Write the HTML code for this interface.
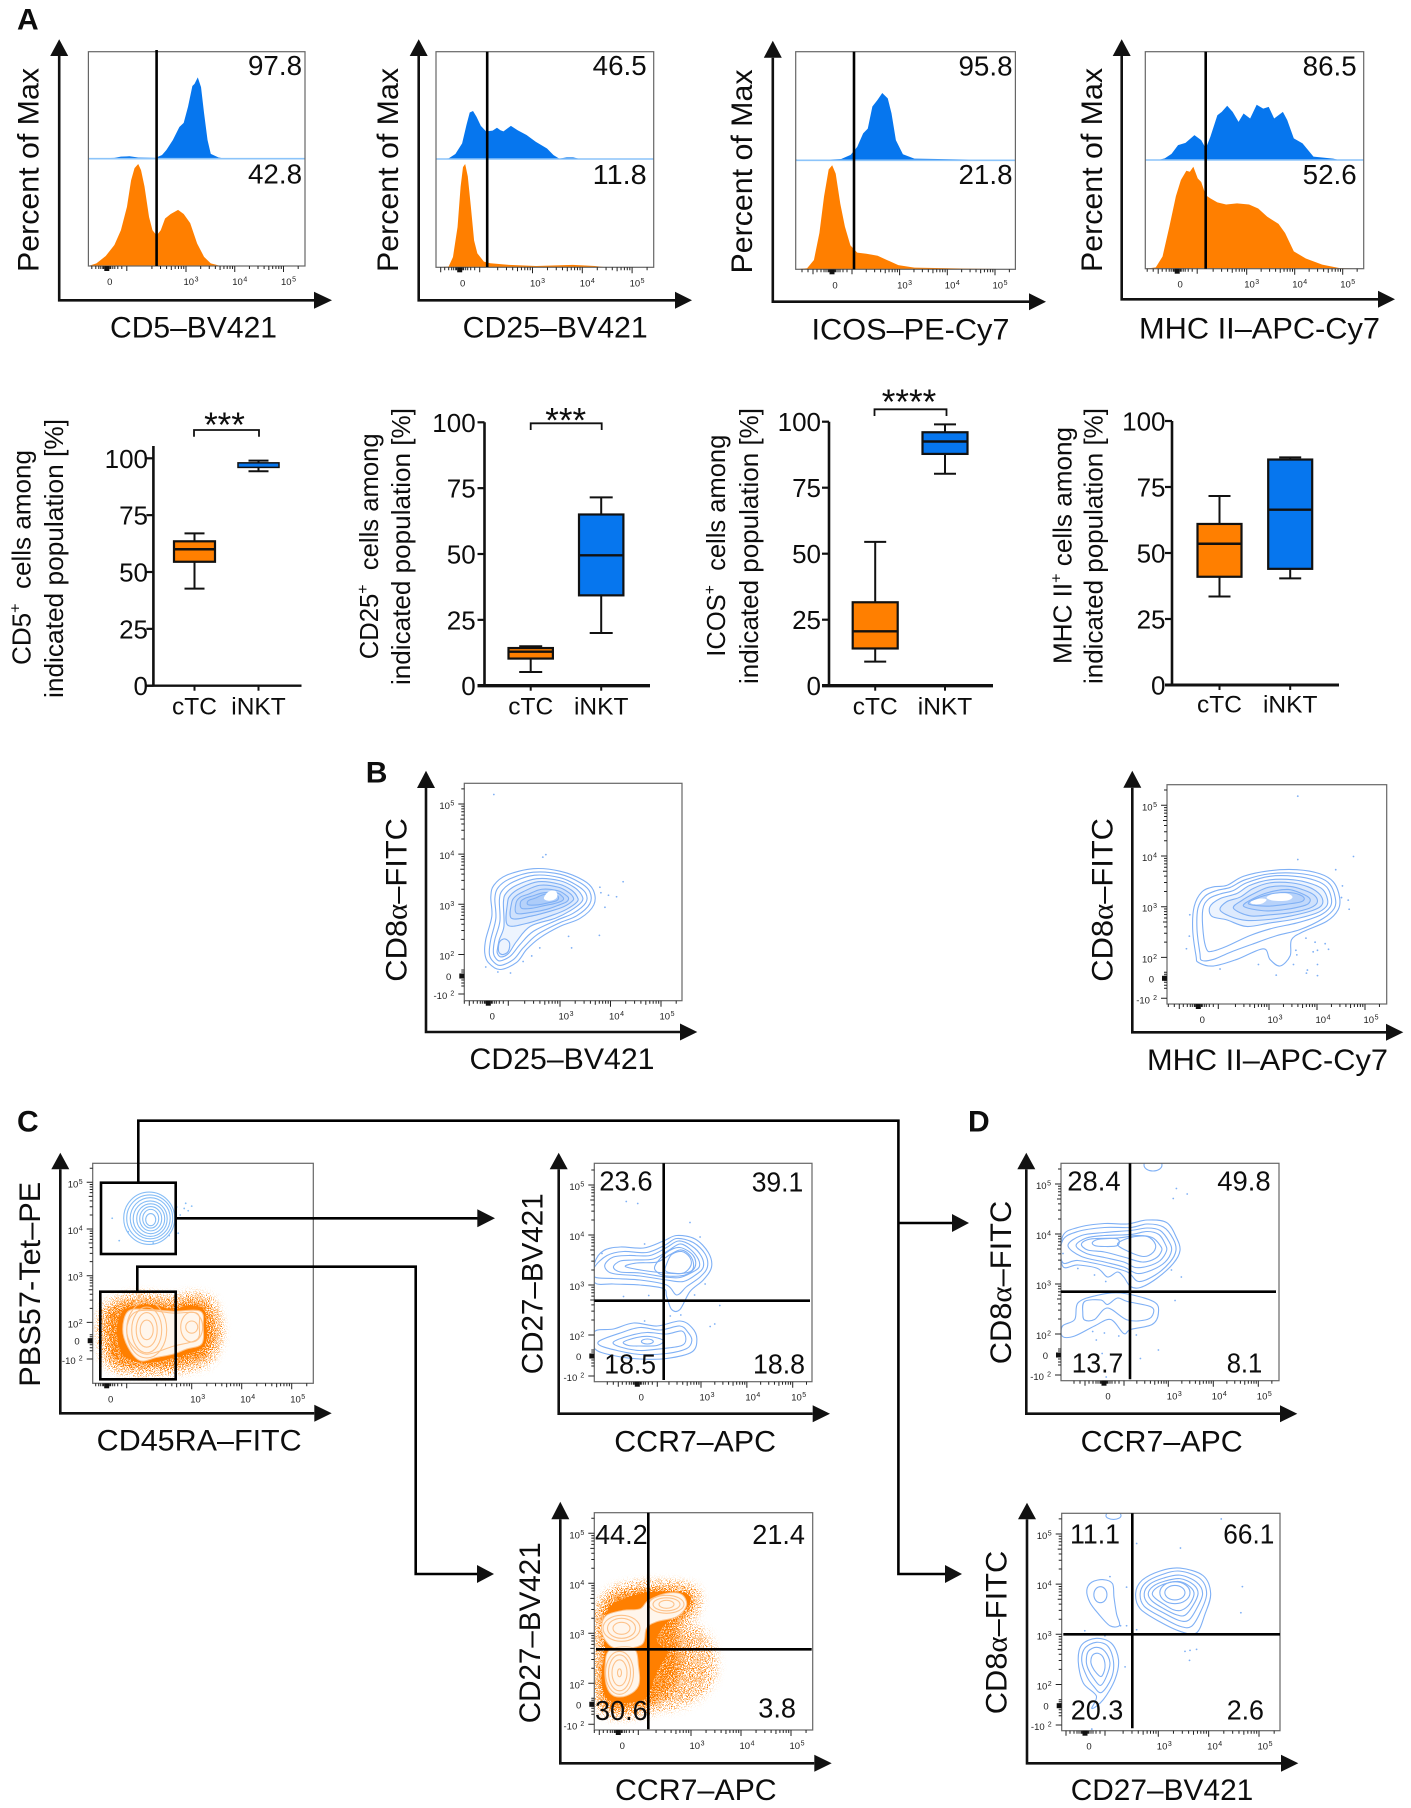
<!DOCTYPE html>
<html lang="en">
<head>
<meta charset="utf-8">
<title>Flow cytometry figure</title>
<style>
html,body{margin:0;padding:0;background:#fff;}
svg{display:block;}
text{font-family:"Liberation Sans",sans-serif;fill:#0d0d0d;}
.title{font-size:30px;}
.boxtitle{font-size:26px;}
.pct{font-size:27.5px;}
.letter{font-size:30px;font-weight:bold;}
.stars{font-size:35px;text-anchor:middle;}
.axis{stroke:#111;stroke-width:2.6;fill:none;}
.gate{stroke:#000;stroke-width:2.6;fill:none;}
.tip{fill:#111;stroke:none;}
.br{stroke:#111;stroke-width:1.8;fill:none;}
.a{font-family:"Liberation Serif",serif;}
</style>
</head>
<body>
<svg id="figure" width="1411" height="1808" viewBox="0 0 1411 1808" xmlns="http://www.w3.org/2000/svg">
<defs>
<filter id="stipple" x="-25%" y="-25%" width="150%" height="150%" color-interpolation-filters="sRGB">
<feGaussianBlur in="SourceAlpha" stdDeviation="6" result="b"/>
<feTurbulence type="fractalNoise" baseFrequency="1.05" numOctaves="2" seed="4" result="n0"/>
<feColorMatrix in="n0" type="matrix" values="0 0 0 0 0  0 0 0 0 0  0 0 0 0 0  0 0 0 1 0" result="n1"/>
<feComponentTransfer in="n1" result="n"><feFuncA type="linear" slope="4" intercept="-1.5"/></feComponentTransfer>
<feComposite in="b" in2="n" operator="arithmetic" k1="0" k2="1" k3="1" k4="-1" result="c"/>
<feComponentTransfer in="c" result="t"><feFuncA type="linear" slope="6"/></feComponentTransfer>
<feFlood flood-color="#ff7f00" result="f"/>
<feComposite in="f" in2="t" operator="in"/>
</filter>
</defs>
<rect width="1411" height="1808" fill="#fff"/>

<text class="letter" x="17" y="29.3">A</text>
<text class="letter" x="365.7" y="782.7">B</text>
<text class="letter" x="17" y="1131.7">C</text>
<text class="letter" x="968" y="1131.7">D</text>

<!-- drawn marks land in this layer -->
<g id="marks"></g>

<!-- Panel A histograms: axes, gates, titles, values -->
<g>
<path class="axis" d="M59.2,56V300.3H314"/>
<path class="tip" d="M59.2,39.3L68.2,56H50.2Z"/>
<path class="tip" d="M332,300.3L314,291.8V308.8Z"/>
<path class="gate" d="M156.6,50V266"/>
<text class="pct" x="248" y="75" textLength="54" lengthAdjust="spacingAndGlyphs">97.8</text>
<text class="pct" x="248" y="183.3" textLength="54" lengthAdjust="spacingAndGlyphs">42.8</text>
<text class="title" x="110" y="337.3" textLength="167" lengthAdjust="spacingAndGlyphs">CD5–BV421</text>
<text class="title" transform="translate(38.5,272) rotate(-90)" textLength="204" lengthAdjust="spacingAndGlyphs">Percent of Max</text>
</g>
<g>
<path class="axis" d="M418.7,56V300.3H675"/>
<path class="tip" d="M418.7,39.3L427.7,56H409.7Z"/>
<path class="tip" d="M692,300.3L675,291.8V308.8Z"/>
<path class="gate" d="M487.2,51.7V267"/>
<text class="pct" x="592.7" y="75" textLength="54" lengthAdjust="spacingAndGlyphs">46.5</text>
<text class="pct" x="592.7" y="184" textLength="54" lengthAdjust="spacingAndGlyphs">11.8</text>
<text class="title" x="462.7" y="337.3" textLength="185" lengthAdjust="spacingAndGlyphs">CD25–BV421</text>
<text class="title" transform="translate(398,272) rotate(-90)" textLength="204" lengthAdjust="spacingAndGlyphs">Percent of Max</text>
</g>
<g>
<path class="axis" d="M772.8,57.7V301.7H1029"/>
<path class="tip" d="M772.8,40.7L781.8,57.7H763.8Z"/>
<path class="tip" d="M1046,301.7L1029,293.2V310.2Z"/>
<path class="gate" d="M854,51.7V269.3"/>
<text class="pct" x="958.5" y="75.3" textLength="54" lengthAdjust="spacingAndGlyphs">95.8</text>
<text class="pct" x="958.5" y="184" textLength="54" lengthAdjust="spacingAndGlyphs">21.8</text>
<text class="title" x="811.5" y="339.3" textLength="198" lengthAdjust="spacingAndGlyphs">ICOS–PE-Cy7</text>
<text class="title" transform="translate(752,273.5) rotate(-90)" textLength="204" lengthAdjust="spacingAndGlyphs">Percent of Max</text>
</g>
<g>
<path class="axis" d="M1121.7,56V299.3H1378"/>
<path class="tip" d="M1121.7,39.3L1130.7,56H1112.7Z"/>
<path class="tip" d="M1395,299.3L1378,290.8V307.8Z"/>
<path class="gate" d="M1205.7,51.7V268.7"/>
<text class="pct" x="1302.7" y="75.3" textLength="54" lengthAdjust="spacingAndGlyphs">86.5</text>
<text class="pct" x="1302.7" y="184" textLength="54" lengthAdjust="spacingAndGlyphs">52.6</text>
<text class="title" x="1139" y="338.3" textLength="241" lengthAdjust="spacingAndGlyphs">MHC II–APC-Cy7</text>
<text class="title" transform="translate(1102,272) rotate(-90)" textLength="204" lengthAdjust="spacingAndGlyphs">Percent of Max</text>
</g>

<!-- Panel A box plot annotations -->
<g>
<text class="boxtitle" transform="translate(30.5,665) rotate(-90)" textLength="215" lengthAdjust="spacingAndGlyphs">CD5<tspan font-size="16" dy="-10">+</tspan><tspan dy="10">&#160; cells among</tspan></text>
<text class="boxtitle" transform="translate(63,698) rotate(-90)" textLength="279" lengthAdjust="spacingAndGlyphs">indicated population [%]</text>
<path class="br" d="M194,436.7V430H259V436.7"/>
<text class="stars" x="224.5" y="437">***</text>

<text class="boxtitle" transform="translate(378,659.3) rotate(-90)" textLength="226" lengthAdjust="spacingAndGlyphs">CD25<tspan font-size="16" dy="-10">+</tspan><tspan dy="10">&#160; cells among</tspan></text>
<text class="boxtitle" transform="translate(410,685) rotate(-90)" textLength="277" lengthAdjust="spacingAndGlyphs">indicated population [%]</text>
<path class="br" d="M530.7,430V423.3H601.7V430"/>
<text class="stars" x="565.7" y="432.5">***</text>

<text class="boxtitle" transform="translate(725,656.7) rotate(-90)" textLength="222" lengthAdjust="spacingAndGlyphs">ICOS<tspan font-size="16" dy="-10">+</tspan><tspan dy="10">&#160; cells among</tspan></text>
<text class="boxtitle" transform="translate(758,684) rotate(-90)" textLength="276" lengthAdjust="spacingAndGlyphs">indicated population [%]</text>
<path class="br" d="M874.5,416V409.3H946.5V416"/>
<text class="stars" x="909" y="414">****</text>

<text class="boxtitle" transform="translate(1071.7,664) rotate(-90)" textLength="237" lengthAdjust="spacingAndGlyphs">MHC II<tspan font-size="16" dy="-10">+</tspan><tspan dy="10">&#160;cells among</tspan></text>
<text class="boxtitle" transform="translate(1102.7,684) rotate(-90)" textLength="276" lengthAdjust="spacingAndGlyphs">indicated population [%]</text>
</g>

<!-- Panel B -->
<g>
<path class="axis" d="M426,788V1032H680"/>
<path class="tip" d="M426,770.7L435,788H417Z"/>
<path class="tip" d="M697.3,1032L680,1023.5V1040.5Z"/>
<text class="title" x="469.5" y="1069" textLength="185" lengthAdjust="spacingAndGlyphs">CD25–BV421</text>
<text class="title" transform="translate(406.7,981.7) rotate(-90)" textLength="163.7" lengthAdjust="spacingAndGlyphs">CD8<tspan class="a">α</tspan>–FITC</text>
<path class="axis" d="M1132.3,787.7V1032.3H1386"/>
<path class="tip" d="M1132.3,770.7L1141.3,787.7H1123.3Z"/>
<path class="tip" d="M1403.3,1032.3L1386,1023.8V1040.8Z"/>
<text class="title" x="1147" y="1070" textLength="241" lengthAdjust="spacingAndGlyphs">MHC II–APC-Cy7</text>
<text class="title" transform="translate(1112.7,981.7) rotate(-90)" textLength="163.7" lengthAdjust="spacingAndGlyphs">CD8<tspan class="a">α</tspan>–FITC</text>
</g>

<!-- Panel C / D -->
<g>
<path class="axis" d="M60.3,1169.3V1413.3H314.3"/>
<path class="tip" d="M60.3,1152.7L69.3,1169.3H51.3Z"/>
<path class="tip" d="M331.7,1413.3L314.3,1404.8V1421.8Z"/>
<text class="title" x="96.7" y="1450.7" textLength="205" lengthAdjust="spacingAndGlyphs">CD45RA–FITC</text>
<text class="title" transform="translate(40,1386.7) rotate(-90)" textLength="205" lengthAdjust="spacingAndGlyphs">PBS57-Tet–PE</text>
<rect class="gate" x="101" y="1182.7" width="74.7" height="71.3"/>
<rect class="gate" x="100.3" y="1291.7" width="75.4" height="87.6"/>
<path class="gate" d="M138.3,1182.7V1120.7H898.4V1574H945M898.4,1223H952"/>
<path class="tip" d="M969,1223L952,1214V1232Z"/>
<path class="tip" d="M962,1574L945,1565V1583Z"/>
<path class="gate" d="M175.7,1218.3H478"/>
<path class="tip" d="M495,1218.3L477.3,1209.3V1227.3Z"/>
<path class="gate" d="M137.3,1291.7V1266.7H415.7V1574H478"/>
<path class="tip" d="M494,1574L477,1565V1583Z"/>

<path class="axis" d="M558.7,1169.3V1413.7H812.7"/>
<path class="tip" d="M558.7,1152.7L567.7,1169.3H549.7Z"/>
<path class="tip" d="M830,1413.7L812.7,1405.2V1422.2Z"/>
<path class="gate" d="M663.7,1163.3V1380M594.3,1300.7H810"/>
<text class="pct" x="599.3" y="1190.7" textLength="53.4" lengthAdjust="spacingAndGlyphs">23.6</text>
<text class="pct" x="751.7" y="1191.7" textLength="51.6" lengthAdjust="spacingAndGlyphs">39.1</text>
<text class="pct" x="604.3" y="1373.3" textLength="51.7" lengthAdjust="spacingAndGlyphs">18.5</text>
<text class="pct" x="753" y="1373.3" textLength="52" lengthAdjust="spacingAndGlyphs">18.8</text>
<text class="title" x="614.3" y="1451.7" textLength="161.7" lengthAdjust="spacingAndGlyphs">CCR7–APC</text>
<text class="title" transform="translate(542.7,1374.3) rotate(-90)" textLength="181" lengthAdjust="spacingAndGlyphs">CD27–BV421</text>

<path class="axis" d="M560.3,1519.3V1763.3H814.3"/>
<path class="tip" d="M560.3,1501.7L569.3,1519.3H551.3Z"/>
<path class="tip" d="M831.7,1763.3L814.3,1754.8V1771.8Z"/>
<path class="gate" d="M648.3,1512.7V1729.3M596,1649.3H811.7"/>
<text class="pct" x="595" y="1544" textLength="52.7" lengthAdjust="spacingAndGlyphs">44.2</text>
<text class="pct" x="752.3" y="1544" textLength="52.7" lengthAdjust="spacingAndGlyphs">21.4</text>
<text class="pct" x="595" y="1720" textLength="52.7" lengthAdjust="spacingAndGlyphs">30.6</text>
<text class="pct" x="758.3" y="1717.3" textLength="37.7" lengthAdjust="spacingAndGlyphs">3.8</text>
<text class="title" x="615" y="1800" textLength="161.7" lengthAdjust="spacingAndGlyphs">CCR7–APC</text>
<text class="title" transform="translate(540,1723.3) rotate(-90)" textLength="181" lengthAdjust="spacingAndGlyphs">CD27–BV421</text>

<path class="axis" d="M1026.3,1169.3V1413.7H1280"/>
<path class="tip" d="M1026.3,1152.7L1035.3,1169.3H1017.3Z"/>
<path class="tip" d="M1297.3,1413.7L1280,1405.2V1422.2Z"/>
<path class="gate" d="M1130,1163.3V1379.3M1061,1291.7H1276"/>
<text class="pct" x="1067.3" y="1190.7" textLength="53.4" lengthAdjust="spacingAndGlyphs">28.4</text>
<text class="pct" x="1217.3" y="1190.7" textLength="53.4" lengthAdjust="spacingAndGlyphs">49.8</text>
<text class="pct" x="1071.7" y="1372.7" textLength="51.6" lengthAdjust="spacingAndGlyphs">13.7</text>
<text class="pct" x="1226.7" y="1372.7" textLength="35.6" lengthAdjust="spacingAndGlyphs">8.1</text>
<text class="title" x="1080.7" y="1451.7" textLength="162" lengthAdjust="spacingAndGlyphs">CCR7–APC</text>
<text class="title" transform="translate(1011,1364.3) rotate(-90)" textLength="163.6" lengthAdjust="spacingAndGlyphs">CD8<tspan class="a">α</tspan>–FITC</text>

<path class="axis" d="M1027,1519.3V1763.3H1281"/>
<path class="tip" d="M1027,1502.7L1036,1519.3H1018Z"/>
<path class="tip" d="M1298.3,1763.3L1281,1754.8V1771.8Z"/>
<path class="gate" d="M1132.3,1513.3V1728.3M1063.3,1634.3H1280"/>
<text class="pct" x="1070" y="1543.3" textLength="50" lengthAdjust="spacingAndGlyphs">11.1</text>
<text class="pct" x="1223.3" y="1543.3" textLength="51" lengthAdjust="spacingAndGlyphs">66.1</text>
<text class="pct" x="1070.7" y="1719.3" textLength="52.6" lengthAdjust="spacingAndGlyphs">20.3</text>
<text class="pct" x="1226.7" y="1719.3" textLength="37.3" lengthAdjust="spacingAndGlyphs">2.6</text>
<text class="title" x="1070.7" y="1800" textLength="182.6" lengthAdjust="spacingAndGlyphs">CD27–BV421</text>
<text class="title" transform="translate(1006.7,1714.3) rotate(-90)" textLength="163.6" lengthAdjust="spacingAndGlyphs">CD8<tspan class="a">α</tspan>–FITC</text>
</g>
</svg>

<script>
/* ---------- histogram data: display channel (0-100 across the plot) and % of max ---------- */
const cd5BlueChannel=[0,12,15,19,23,31,34,36,39,42,44,46,48,49,50.5,52,53.4,55,56.5,60,63,100];
const cd5BlueCount=[0,1,2.5,3,1.5,1,4.5,10.7,23,39,44,64,89.5,92,100,88,56,23,6,1.6,0,0];
const cd5OrangeChannel=[0,3.7,8,12,15,17.8,19.7,21.3,23,24.3,25.9,28,29.6,31.5,33.4,35.4,38,41.4,44,47,50.2,53.4,56.5,60.7,100];
const cd5OrangeCount=[0,2.6,9.8,20.6,35,58,84,96,100,94,78,48,35,30,35,46.6,51,55,51,42,22,9,2.6,0.3,0];
const cd25BlueChannel=[0,5.8,8.9,12,14,15.5,17,18.6,20.6,23,26,28,29.6,31,34.4,37.5,41.6,45.8,51,54,56.6,60,63,66.4,100];
const cd25BlueCount=[0,1.4,10.4,32.6,71,97,100,88,69,57.6,59,65,60,57.6,69,60,50,36,22,8,0.7,3.5,3.5,0,0];
const cd25OrangeChannel=[0,5.8,7.8,9.9,11.3,12.4,13.4,14.6,16,17.5,19,22,25,33.6,46,62.8,73,77,100];
const cd25OrangeCount=[0,0.6,10,39,78,97,100,88,59,26,13.5,5.5,3.9,2.3,1.3,2.3,1.3,0.3,0];
const icosBlueChannel=[0,3,14.5,20.7,25,28,30.7,32.8,34.9,37.3,39.4,41.9,43.6,45.6,48.8,54,100];
const icosBlueCount=[1.5,0,1,2,8,20,40,47,80,90,100,92,70,30,9,2.5,0];
const icosOrangeChannel=[0,5.2,8.3,10.8,12.9,15,16.6,18.2,20.3,22.4,24.9,28,32.2,37.3,41.5,46.7,54,79,100];
const icosOrangeCount=[0,1,9,35,70,96,100,92,63,41,23,16,15,13,9,4,1.6,0.6,0];
const mhcBlueChannel=[0,5.8,8.9,12,15,18.4,22.5,25.6,27.7,29.8,33,35,37.5,40,42.7,45,48,51,54,56.5,59,63,65,68,72,77,86,89,100];
const mhcBlueCount=[0,0,3,11,27,31,45,36,21,42,81,87,98,87,69,84,75,100,93,96,75,87,72,39,30,6,2.4,0,0];
const mhcOrangeChannel=[0,4.8,7.9,11,14,16.3,18.8,20.4,22,24,25.6,27.7,29.8,33,37,42,47.5,51.7,55.8,61,64,68,73.5,81,89,100];
const mhcOrangeCount=[0,1.3,12,41,71,87,96,95,100,88.5,85,72,69,65,63,64,63,59,51,44,35,17,10,4,0.6,0];

/* ---------- box plot data: [low whisker, Q1, median, Q3, high whisker] in % ---------- */
const boxCategories=['cTC','iNKT'];
const boxTickValues=[0,25,50,75,100];
const cd5BoxCtc=[42.7,54.5,60,63.5,67];
const cd5BoxInkt=[94.3,96,97,98,99];
const cd25BoxCtc=[5.2,10.3,12.9,14.3,15];
const cd25BoxInkt=[20,34.3,49.5,65,71.5];
const icosBoxCtc=[9.1,14.1,20.6,31.6,54.5];
const icosBoxInkt=[80.3,87.8,92.5,96,99];
const mhcBoxCtc=[33.5,41,53.5,61,71.6];
const mhcBoxInkt=[40.4,44,66.4,85.4,86.2];

/* ---------- flow tick labels ---------- */
const xTickExponents=['3','4','5'];
const yTickExponents=['2','3','4','5'];
const minorMultiples=[2,3,4,5,6,7,8,9];

/* ---------- contour data: rings of [log10 x, log10 y] in display decades ---------- */
const cd25Rings=[
[[1.51,2.03],[1.53,2.3],[1.65,2.76],[1.63,3.15],[1.69,3.38],[1.94,3.58],[2.47,3.71],[3,3.66],[3.46,3.48],[3.66,3.28],[3.67,2.99],[3.4,2.72],[3,2.56],[2.6,2.33],[2.34,2.1],[2.14,1.84],[1.81,1.7],[1.58,1.84]],
[[1.6,2.03],[1.63,2.3],[1.73,2.72],[1.71,3.12],[1.78,3.34],[2.01,3.51],[2.47,3.64],[3,3.6],[3.4,3.43],[3.59,3.25],[3.59,3.01],[3.33,2.77],[2.97,2.62],[2.54,2.39],[2.27,2.13],[2.08,1.9],[1.81,1.78],[1.65,1.89]],
[[1.68,2.07],[1.71,2.3],[1.81,2.66],[1.8,3.09],[1.86,3.28],[2.08,3.45],[2.5,3.58],[3,3.53],[3.33,3.38],[3.51,3.22],[3.51,3.03],[3.26,2.82],[2.93,2.68],[2.47,2.46],[2.21,2.2],[2.02,1.97],[1.81,1.87],[1.71,1.95]],
[[1.76,2.1],[1.8,2.3],[1.89,2.56],[1.88,3.05],[1.94,3.23],[2.14,3.38],[2.54,3.51],[3,3.47],[3.28,3.34],[3.43,3.18],[3.43,3.05],[3.2,2.87],[2.9,2.72],[2.41,2.56],[2.14,2.26],[1.98,2.02],[1.83,1.95],[1.76,2.02]],
[[1.96,2.59],[1.96,3.02],[2.02,3.18],[2.21,3.32],[2.57,3.45],[2.99,3.4],[3.23,3.28],[3.34,3.15],[3.34,3.05],[3.13,2.9],[2.87,2.79],[2.34,2.62]],
[[2.04,2.72],[2.04,3.02],[2.11,3.15],[2.27,3.25],[2.6,3.38],[2.97,3.34],[3.18,3.23],[3.26,3.14],[3.25,3.07],[3.07,2.95],[2.8,2.86],[2.41,2.76]],
[[2.14,2.82],[2.13,3.03],[2.21,3.14],[2.37,3.2],[2.64,3.3],[2.96,3.27],[3.12,3.18],[3.17,3.12],[3.13,3.05],[2.99,2.99],[2.74,2.9],[2.44,2.84]],
[[2.24,2.92],[2.22,3.05],[2.31,3.12],[2.47,3.17],[2.67,3.23],[2.93,3.23],[3.04,3.16],[3.07,3.1],[3,3.05],[2.87,3.01],[2.67,2.97],[2.44,2.92]],
[[2.37,2.99],[2.37,3.07],[2.5,3.12],[2.7,3.2],[2.9,3.2],[2.97,3.14],[2.93,3.07],[2.77,3.03],[2.57,2.99]]];
const cd25SideRings=[[[1.78,2.13],[1.81,2.26],[1.91,2.31],[2,2.23],[1.98,2.07],[1.88,2],[1.8,2.03]]];
const cd25Peaks=[[[2.68,3.12],[2.77,3.25],[2.9,3.27],[2.95,3.18],[2.9,3.1],[2.77,3.07]]];
const cd25Dots=[[1.69,5.19],[2.66,3.94],[2.72,3.99],[3.79,3.34],[3.81,3.23],[3.96,3.18],[4.12,3.15],[4.25,3.45],[3.89,2.94],[3.78,2.38],[3.17,2.36],[3.23,2.13],[2.6,2.13],[2.44,1.97],[2.27,1.86],[2.02,1.63],[1.77,1.65],[1.53,1.75]];

const mhcRings=[
[[1.48,2.03],[1.41,2.55],[1.44,3],[1.6,3.29],[1.84,3.39],[2.12,3.42],[2.47,3.6],[3.02,3.71],[3.58,3.73],[4.06,3.65],[4.34,3.49],[4.47,3.19],[4.44,2.94],[4.2,2.71],[3.72,2.51],[3.47,2.35],[3.44,2.03],[3.23,1.83],[3.02,1.96],[2.88,2.17],[2.33,1.96],[1.84,1.83],[1.53,1.9]],
[[1.56,2.09],[1.5,2.55],[1.52,2.97],[1.67,3.21],[1.91,3.32],[2.19,3.38],[2.5,3.53],[3.02,3.65],[3.58,3.66],[4.03,3.58],[4.27,3.44],[4.38,3.18],[4.36,2.97],[4.13,2.77],[3.65,2.55],[3.16,2.43],[2.65,2.26],[2.19,2.1],[1.84,1.96],[1.6,1.94]],
[[1.7,2.16],[1.63,2.48],[1.62,2.94],[1.74,3.15],[1.98,3.25],[2.26,3.32],[2.53,3.47],[3.02,3.6],[3.54,3.6],[3.96,3.52],[4.2,3.39],[4.3,3.16],[4.27,2.99],[4.06,2.83],[3.58,2.68],[3.09,2.58],[2.6,2.43],[2.12,2.22],[1.81,2.12]]];
const mhcBodyRings=[
[[1.81,2.81],[1.77,3],[1.98,3.16],[2.33,3.26],[2.6,3.42],[3.02,3.53],[3.51,3.53],[3.89,3.45],[4.12,3.34],[4.22,3.14],[4.19,3],[3.98,2.87],[3.51,2.75],[3.02,2.68],[2.53,2.61],[2.12,2.74]],
[[1.98,2.94],[2.12,3.1],[2.4,3.19],[2.67,3.36],[3.02,3.47],[3.47,3.47],[3.82,3.39],[4.03,3.27],[4.12,3.13],[4.08,3.01],[3.89,2.92],[3.47,2.82],[3.02,2.75],[2.53,2.73],[2.19,2.81]],
[[2.26,2.97],[2.43,3.12],[2.71,3.27],[3.02,3.39],[3.44,3.4],[3.75,3.32],[3.94,3.23],[4.01,3.12],[3.96,3.03],[3.78,2.95],[3.44,2.88],[3.02,2.84],[2.6,2.82]],
[[2.47,3.01],[2.67,3.16],[3.02,3.29],[3.4,3.34],[3.68,3.26],[3.85,3.16],[3.82,3.06],[3.65,3],[3.3,2.94],[2.88,2.92]],
[[2.57,3.06],[2.81,3.19],[3.16,3.27],[3.51,3.27],[3.72,3.19],[3.68,3.1],[3.37,3.05],[2.95,3.01]]];
const mhcPeaks=[[[2.95,3.18],[3.09,3.25],[3.37,3.26],[3.49,3.19],[3.37,3.12],[3.09,3.12]],[[2.62,3.1],[2.81,3.16],[2.95,3.14],[2.85,3.06],[2.67,3.05]]];
const mhcDots=[[3.6,5.18],[4.76,3.99],[3.6,3.93],[4.39,3.73],[4.53,3.41],[4.51,3.18],[4.65,3.13],[4.67,2.95],[1.35,2.84],[1.34,2.42],[1.28,2.17],[3.77,2.38],[3.96,2.3],[4.17,2.27],[3.92,2.11],[4.01,2.14],[4.24,2.16],[3.56,2.14],[3.58,2.05],[3.51,1.86],[3.8,1.75],[4.01,1.86],[3.78,1.69],[4.01,1.64],[3.15,1.65],[2.78,1.86],[1.98,1.77]];

/* gating plot */
const tetEllipses=[[2.15,4.23,0.51,0.56],[2.16,4.23,0.46,0.5],[2.17,4.23,0.4,0.44],[2.17,4.22,0.34,0.38],[2.18,4.22,0.28,0.32],[2.18,4.22,0.22,0.26],[2.18,4.22,0.16,0.2],[2.18,4.2,0.1,0.13]];
const tetDots=[[1.41,4.23],[1.55,3.75],[1.73,3.94],[2.88,4.55],[3,4.49],[2.85,4.44],[2.93,4.39],[2.7,4.47],[2.77,4.3],[2.73,3.91],[2.55,3.86],[2.23,3.7]];
const ctcCloud=[[1.23,1.78],[1.3,2.27],[1.63,2.45],[2.17,2.51],[2.63,2.42],[2.9,2.51],[3.3,2.46],[3.47,2.13],[3.5,1.64],[3.3,1.22],[2.9,1.08],[2.37,1],[1.83,1],[1.37,1.15]];
const ctcCore=[[1.5,1.78],[1.57,2.14],[1.73,2.32],[2.17,2.38],[2.63,2.28],[2.9,2.36],[3.2,2.32],[3.28,2.1],[3.3,1.68],[3.2,1.45],[2.9,1.32],[2.37,1.17],[1.97,1.14],[1.62,1.32]];
const ctcLight=[[[1.62,1.85],[1.73,2.24],[2.1,2.28],[2.63,2.24],[3.17,2.24],[3.23,1.92],[3.2,1.54],[2.9,1.43],[2.63,1.32],[2.3,1.25],[1.97,1.18],[1.73,1.46]]];
const ctcLightRings=[[[1.7,1.85],[1.82,2.18],[2.1,2.26],[2.63,2.2],[3.1,2.2],[3.15,1.92],[3.1,1.63],[2.63,1.49],[2.1,1.32],[1.8,1.52]]];
const ctcEllipses=[[2.1,1.84,0.4,0.6],[2.1,1.84,0.3,0.49],[2.1,1.84,0.21,0.37],[2.1,1.84,0.13,0.21],[3,1.9,0.22,0.32],[3,1.9,0.12,0.13]];

/* CCR7 vs CD27 on iNKT */
const ccr7InktRings=[
[[0.68,3.44],[0.88,3.69],[1.24,3.76],[1.75,3.74],[2.18,3.88],[2.47,3.99],[2.87,3.92],[3.16,3.65],[3.23,3.36],[3.05,3.1],[2.76,2.87],[2.54,2.51],[2.36,2.51],[2.25,2.77],[2.18,2.93],[1.67,3],[1.09,3.02],[0.68,3.05]],
[[0.68,3.36],[0.95,3.59],[1.31,3.67],[1.82,3.65],[2.22,3.8],[2.47,3.93],[2.83,3.85],[3.09,3.62],[3.14,3.36],[2.98,3.16],[2.69,2.97],[2.47,2.8],[2.25,3],[1.67,3.1],[1.09,3.13],[0.68,3.16]],
[[0.91,3.42],[1.09,3.56],[1.42,3.59],[1.89,3.59],[2.25,3.75],[2.51,3.88],[2.8,3.78],[3.01,3.57],[3.05,3.36],[2.91,3.22],[2.62,3.07],[2.25,3.1],[1.67,3.18],[1.13,3.22],[0.95,3.29]],
[[1.09,3.36],[1.24,3.48],[1.53,3.5],[1.96,3.52],[2.29,3.69],[2.54,3.82],[2.76,3.72],[2.94,3.52],[2.96,3.36],[2.82,3.26],[2.54,3.15],[2.22,3.16],[1.67,3.24],[1.24,3.26]],
[[1.35,3.37],[1.6,3.44],[2.04,3.46],[2.33,3.61],[2.54,3.7],[2.72,3.63],[2.83,3.46],[2.8,3.29],[2.58,3.23],[2.22,3.24],[1.75,3.29]],
[[2,3.39],[2.25,3.65],[2.54,3.75],[2.83,3.59],[2.87,3.36],[2.65,3.2],[2.25,3.18],[2.04,3.26]],
[[2.25,3.42],[2.36,3.61],[2.58,3.67],[2.75,3.56],[2.78,3.39],[2.62,3.24],[2.36,3.24],[2.22,3.29]],
[[0.68,2.07],[1.09,2.12],[1.53,2.24],[2.04,2.18],[2.54,2.28],[2.8,2.15],[2.91,1.92],[2.8,1.66],[2.25,1.53],[1.67,1.52],[1.09,1.59],[0.68,1.73]],
[[0.8,1.89],[1.24,2.04],[1.67,2.15],[2.11,2.1],[2.54,2.18],[2.72,2.05],[2.8,1.89],[2.69,1.73],[2.25,1.63],[1.67,1.61],[1.17,1.69],[0.8,1.79]],
[[1.09,1.86],[1.46,1.99],[1.82,2.05],[2.25,2.02],[2.58,2.08],[2.67,1.92],[2.58,1.79],[2.18,1.73],[1.67,1.69],[1.24,1.76]],
[[1.31,1.86],[1.6,1.95],[1.89,1.97],[2.18,1.89],[2.04,1.79],[1.67,1.78],[1.42,1.79]]];
const ccr7InktEllipses=[[1.83,1.87,0.13,0.05]];
const ccr7InktDots=[[1.37,4.67],[1.62,4.63],[2.76,4.25],[2.98,3.96],[1.77,3.82],[0.84,3.63],[1.31,2.77],[1.86,2.79],[3.09,3.02],[2.86,2.8],[3.41,2.59],[2.33,2.38],[2.56,2.4],[1.77,2.28],[3.3,2.22],[3.2,2.17]];

/* CCR7 vs CD27 on cTC */
const ccr7CtcCloud=[[1.15,3.2],[1.18,3.46],[1.45,3.79],[2.11,3.93],[2.91,3.89],[3.11,3.69],[3.01,3.43],[2.71,3.1],[2.78,2.61],[2.71,2.08],[2.38,1.68],[2.11,1.49],[1.31,1.45],[1.11,2.08],[1.18,2.67]];
const ccr7CtcSparse=[[2.18,2.93],[2.91,3.13],[3.31,2.87],[3.45,2.28],[3.11,1.75],[2.38,1.55],[2.15,2.08]];
const ccr7CtcCore=[[1.25,3.13],[1.35,3.49],[1.58,3.66],[2.11,3.82],[2.78,3.82],[2.98,3.72],[2.91,3.49],[2.51,3.2],[2.31,2.87],[2.51,2.61],[2.31,2.21],[2.05,1.68],[1.38,1.65],[1.21,2.08],[1.28,2.67]];
const ccr7CtcLight=[[[1.21,3.13],[1.31,3.36],[1.65,3.46],[1.98,3.49],[2.15,3.66],[2.51,3.8],[2.81,3.78],[2.91,3.56],[2.71,3.33],[2.31,3.23],[2.11,3.1],[2.01,2.77],[1.51,2.7],[1.28,2.87]],[[1.28,2.34],[1.38,2.67],[1.85,2.7],[1.95,2.34],[1.95,1.95],[1.71,1.75],[1.45,1.75],[1.31,1.95]]];
const ccr7CtcEllipses=[[1.61,3.1,0.17,0.12],[1.61,3.1,0.28,0.2],[1.61,3.1,0.37,0.26],[2.51,3.58,0.15,0.08],[2.51,3.58,0.27,0.13],[2.51,3.58,0.35,0.18],[1.57,2.21,0.04,0.08],[1.57,2.21,0.15,0.26],[1.57,2.21,0.22,0.36],[1.57,2.21,0.28,0.43]];

/* Panel D top */
const dTopRings=[
[[0.65,3.95],[0.99,4.13],[1.58,4.21],[2.09,4.2],[2.53,4.28],[2.96,4.23],[3.18,3.93],[3.26,3.67],[3.11,3.41],[2.74,3.11],[2.38,2.93],[2.16,2.95],[2.01,3.14],[1.87,3.24],[1.65,3.14],[1.43,3.31],[0.99,3.38],[0.65,3.36]],
[[0.65,3.87],[0.99,4.05],[1.58,4.13],[2.16,4.13],[2.53,4.2],[2.89,4.14],[3.11,3.9],[3.17,3.67],[3.04,3.44],[2.71,3.18],[2.34,3.05],[2.09,3.24],[1.58,3.37],[0.99,3.47],[0.65,3.43]],
[[0.77,3.77],[1.07,3.97],[1.58,4.03],[2.16,4.07],[2.53,4.12],[2.82,4.07],[3.02,3.84],[3.07,3.66],[2.93,3.44],[2.64,3.28],[2.31,3.21],[2.01,3.34],[1.58,3.44],[1.07,3.55]],
[[0.95,3.77],[1.18,3.92],[1.58,3.97],[2.16,3.99],[2.53,4.05],[2.79,3.99],[2.93,3.8],[2.96,3.66],[2.82,3.47],[2.56,3.36],[2.27,3.33],[2.01,3.44],[1.58,3.53],[1.18,3.61]],
[[1.07,3.8],[1.28,3.9],[1.87,3.92],[2.31,3.97],[2.64,3.93],[2.82,3.77],[2.85,3.66],[2.71,3.51],[2.42,3.44],[2.01,3.54],[1.58,3.64],[1.21,3.68]],
[[1.87,3.8],[2.16,3.93],[2.53,3.95],[2.71,3.8],[2.67,3.64],[2.45,3.55],[2.09,3.66]],
[[1.32,3.84],[1.5,3.9],[1.87,3.9],[1.87,3.77],[1.58,3.75],[1.36,3.77]],
[[0.65,2.16],[0.92,2.29],[0.99,2.62],[1.36,2.76],[1.94,2.82],[2.67,2.65],[2.78,2.42],[2.64,2.19],[2.16,2.09],[2.01,2.01],[1.72,2.29],[1.36,2.16],[0.92,1.96],[0.65,1.95]],
[[1.1,2.42],[1.14,2.65],[1.5,2.68],[1.65,2.59],[1.87,2.72],[2.09,2.65],[2.6,2.55],[2.67,2.42],[2.53,2.29],[2.09,2.28],[1.65,2.52],[1.36,2.29],[1.14,2.28]]];
const dTopEllipses=[[2.66,5.38,0.2,0.12]];
const dTopDots=[[3.18,4.91],[3.11,4.71],[3.42,4.8],[0.99,3.31],[1.36,3.18],[1.61,3.05],[3.29,3.14],[3.07,3.28],[3.15,2.67],[1.32,2.05],[1.58,2.02],[1.4,1.88],[1.9,1.96],[2.29,1.98],[2.78,1.68],[2.38,1.51],[1.53,1.61],[1.62,1.14],[0.66,3.61]];

/* Panel D bottom */
const dBottomRings=[
[[2.55,3.81],[2.67,4.07],[3.03,4.26],[3.43,4.32],[3.89,4.17],[4.04,3.81],[3.93,3.41],[3.76,3.03],[3.46,3.05],[3.03,3.25],[2.64,3.51]],
[[2.64,3.81],[2.75,4.03],[3.07,4.19],[3.43,4.26],[3.83,4.11],[3.96,3.81],[3.84,3.45],[3.66,3.16],[3.43,3.16],[3.07,3.34],[2.72,3.56]],
[[2.72,3.81],[2.83,4],[3.1,4.12],[3.43,4.18],[3.76,4.04],[3.88,3.81],[3.76,3.51],[3.6,3.28],[3.4,3.28],[3.1,3.43],[2.8,3.61]],
[[2.8,3.81],[2.9,3.96],[3.13,4.06],[3.43,4.11],[3.7,3.99],[3.79,3.81],[3.68,3.56],[3.53,3.38],[3.36,3.39],[3.11,3.51],[2.88,3.66]],
[[2.88,3.81],[2.97,3.93],[3.18,4.02],[3.43,4.05],[3.64,3.94],[3.71,3.8],[3.62,3.6],[3.46,3.48],[3.3,3.49],[3.11,3.6],[2.95,3.71]],
[[1.58,3.88],[1.68,4.04],[1.91,4.09],[2.09,4.01],[2.12,3.74],[2.17,3.41],[2.23,3.18],[2.04,3.17],[1.81,3.41],[1.64,3.64]],
[[1.41,2.46],[1.48,2.79],[1.77,2.92],[2.07,2.82],[2.21,2.49],[2.14,2.1],[1.91,1.7],[1.68,1.52],[1.77,1.77],[1.51,2.03]],
[[1.48,2.46],[1.54,2.72],[1.77,2.84],[2,2.76],[2.11,2.46],[2.07,2.13],[1.87,1.84],[1.71,1.97],[1.58,2.16]],
[[1.57,2.46],[1.61,2.66],[1.77,2.74],[1.94,2.66],[2.04,2.43],[1.97,2.16],[1.85,1.98],[1.71,2.13],[1.61,2.3]],
[[1.66,2.46],[1.7,2.59],[1.81,2.62],[1.91,2.53],[1.94,2.33],[1.87,2.16],[1.77,2.23],[1.69,2.35]]];
const dBottomEllipses=[[3.33,3.83,0.3,0.22],[3.33,3.83,0.2,0.145],[1.85,3.79,0.13,0.16],[2.11,5.37,0.15,0.08]];
const dBottomDots=[[4.25,5.3],[2.57,4.81],[3.44,4.72],[2.37,3.94],[2.04,4.15],[4.67,3.95],[4.64,3.43],[1.54,3.07],[2.25,3.17],[2.37,3.17],[2.57,3.09],[1.94,2.97],[2.34,2.35],[3.53,2.66],[3.63,2.68],[3.76,2.7],[3.62,2.48],[1.68,1.11]];

/* ---------- layout ---------- */
const NS='http://www.w3.org/2000/svg';
const ORANGE='#ff7f00', BLUE='#0676ee', LANE='#8cc4fa';
const layer=document.getElementById('marks');
const defs=document.querySelector('#figure defs');

function make(tag,parent,name,attrs){
  const el=document.createElementNS(NS,tag);
  
  
  for(const k in attrs){el.setAttribute(k,attrs[k]);}
  parent.appendChild(el);
  return el;
}
function fmt(n){return n.toFixed(2);}

function smoothClosed(points,sx,sy){
  const p=points.map(q=>[sx(q[0]),sy(q[1])]);
  const n=p.length;
  let d='M'+fmt(p[0][0])+','+fmt(p[0][1]);
  for(let i=0;i<n;i++){
    const a=p[(i-1+n)%n],b=p[i],c=p[(i+1)%n],e=p[(i+2)%n];
    d+='C'+fmt(b[0]+(c[0]-a[0])/6)+','+fmt(b[1]+(c[1]-a[1])/6)+' '+fmt(c[0]-(e[0]-b[0])/6)+','+fmt(c[1]-(e[1]-b[1])/6)+' '+fmt(c[0])+','+fmt(c[1]);
  }
  return d+'Z';
}

/* tick helpers */
function addExpLabel(g,name,x,y,anchor,base,exp){
  const t=make('text',g,name,{x:x,y:y,'text-anchor':anchor,'font-size':'9.5'});
  t.style.fill='#222';
  if(exp===null){t.textContent=base;return t;}
  t.appendChild(document.createTextNode(base));
  const s=document.createElementNS(NS,'tspan');
  s.setAttribute('font-size','7');
  s.setAttribute('dy','-3.5');
  s.setAttribute('dx','0.5');
  s.textContent=exp;
  t.appendChild(s);
  return t;
}
function drawXTicks(g,box,xt,labelShift){
  const dec=(xt.t5-xt.t3)/2, bottom=box[3];
  const X=u=>xt.t3+(u-3)*dec;
  let d='';
  const add=(x,len)=>{if(x>=box[0]&&x<=box[2])d+='M'+fmt(x)+','+bottom+'v'+len;};
  xTickExponents.forEach(e=>add(X(+e),6));
  [2,3,4,5].forEach(dc=>minorMultiples.forEach(m=>{
    const x=X(dc+Math.log10(m));
    if(x>xt.zero+20) add(x,m===5?4:3);
  }));
  [-30,-24,-19,-15,-11,-8,-6,-4,-3,3,4,6,8,11,15,20].forEach(o=>add(xt.zero+o,o===20||o===-19?5:3));
  make('path',g,'x-axis-ticks',{d:d,stroke:'#222','stroke-width':'1',fill:'none'});
  make('rect',g,'x-axis-zero-cluster',{x:xt.zero-2.5,y:bottom,width:5,height:5,fill:'#111'});
  addExpLabel(g,'x-tick-label-zero',xt.zero+labelShift-1,bottom+19,'middle','0',null);
  xTickExponents.forEach(e=>addExpLabel(g,'x-tick-label-1e'+e,X(+e)+labelShift+1,bottom+19,'middle','10',e));
}
function drawYTicks(g,box,yt){
  const dec=(yt.t3-yt.t5)/2, left=box[0];
  const Y=v=>yt.t3-(v-3)*dec;
  let d='';
  const add=(y,len)=>{if(y>=box[1]&&y<=box[3])d+='M'+left+','+fmt(y)+'h-'+len;};
  yTickExponents.forEach(e=>add(Y(+e),6));
  add(yt.neg,6);
  [2,3,4,5].forEach(dc=>minorMultiples.forEach(m=>{
    add(Y(dc+Math.log10(m)),m===5?4:3);
  }));
  [-6,-4,-2,2,4,7,10].forEach(o=>add(yt.zero+o,3));
  make('path',g,'y-axis-ticks',{d:d,stroke:'#222','stroke-width':'1',fill:'none'});
  make('rect',g,'y-axis-zero-cluster',{x:left-5,y:yt.zero-2.5,width:5,height:5,fill:'#111'});
  const lx=left-10;
  yTickExponents.forEach(e=>addExpLabel(g,'y-tick-label-1e'+e,lx,Y(+e)+5,'end','10',e));
  addExpLabel(g,'y-tick-label-zero',lx-3,yt.zero+4,'end','0',null);
  addExpLabel(g,'y-tick-label-neg',lx,yt.neg+5,'end','-10 ','2');
}

/* histograms */
function drawHistogram(cfg){
  const g=make('g',layer,cfg.name,{});
  const b=cfg.box;
  const X=c=>b[0]+c/100*(b[2]-b[0]);
  function area(name,ch,ct,base,height,color){
    let d='M'+fmt(X(ch[0]))+','+base;
    ch.forEach((c,i)=>{d+='L'+fmt(X(c))+','+fmt(base-ct[i]/100*height);});
    d+='L'+fmt(X(ch[ch.length-1]))+','+base+'Z';
    make('path',g,name,{d:d,fill:color,stroke:'none'});
  }
  area('ctc-histogram',cfg.orange[0],cfg.orange[1],b[3],cfg.orangeH,ORANGE);
  area('inkt-histogram',cfg.blue[0],cfg.blue[1],cfg.lane,cfg.blueH,BLUE);
  make('line',g,'inkt-lane-baseline',{x1:b[0],x2:b[2],y1:cfg.lane,y2:cfg.lane,stroke:LANE,'stroke-width':'1.6'});
  make('rect',g,'plot-frame',{x:b[0],y:b[1],width:b[2]-b[0],height:b[3]-b[1],fill:'none',stroke:'#666','stroke-width':'1.2'});
  drawXTicks(g,b,cfg.xt,4);
}
drawHistogram({name:'cd5-histogram',box:[88.4,51.7,305,266],lane:158.7,blueH:81.3,orangeH:102,xt:{zero:106.8,t3:186,t5:283.5},blue:[cd5BlueChannel,cd5BlueCount],orange:[cd5OrangeChannel,cd5OrangeCount]});
drawHistogram({name:'cd25-histogram',box:[436,51.7,653.7,267.3],lane:159,blueH:48,orangeH:103.3,xt:{zero:459.7,t3:532.5,t5:632.1},blue:[cd25BlueChannel,cd25BlueCount],orange:[cd25OrangeChannel,cd25OrangeCount]});
drawHistogram({name:'icos-histogram',box:[795.7,51.7,1015.4,269.3],lane:160.3,blueH:67.3,orangeH:104,xt:{zero:832,t3:899.6,t5:995},blue:[icosBlueChannel,icosBlueCount],orange:[icosOrangeChannel,icosOrangeCount]});
drawHistogram({name:'mhc-histogram',box:[1145.3,51.7,1363.7,268.7],lane:160,blueH:55.3,orangeH:102,xt:{zero:1177.2,t3:1246.7,t5:1342.7},blue:[mhcBlueChannel,mhcBlueCount],orange:[mhcOrangeChannel,mhcOrangeCount]});

/* box plots */
function drawBoxPlot(cfg){
  const g=make('g',layer,cfg.name,{});
  const Y=v=>cfg.y0+(cfg.y100-cfg.y0)*v/100;
  make('path',g,'y-axis',{d:'M'+cfg.x+','+cfg.top+'V'+cfg.y0,stroke:'#111','stroke-width':'2.6',fill:'none'});
  make('path',g,'x-axis',{d:'M'+(cfg.x-7)+','+cfg.y0+'H'+cfg.right,stroke:'#111','stroke-width':cfg.xw,fill:'none'});
  boxTickValues.forEach(v=>{
    make('line',g,'y-tick-'+v,{x1:cfg.x-7,x2:cfg.x,y1:Y(v),y2:Y(v),stroke:'#111','stroke-width':'2.2'});
    const t=make('text',g,'y-tick-label-'+v,{x:cfg.lab,y:Y(v)+9.5,'text-anchor':'end','font-size':'26'});
    t.textContent=String(v);
  });
  cfg.series.forEach((s,i)=>{
    const c=cfg.cats[i], color=i===0?ORANGE:BLUE, cat=boxCategories[i];
    make('line',g,'x-tick-'+cat,{x1:c,x2:c,y1:cfg.y0,y2:cfg.y0+5,stroke:'#111','stroke-width':'2'});
    const t=make('text',g,'x-tick-label-'+cat,{x:c,y:cfg.catBase,'text-anchor':'middle','font-size':'24.5'});
    t.textContent=cat;
    const w=cfg.w/2,cp=cfg.cap/2;
    const h=Y(s[1])-Y(s[3]);
    make('path',g,'whiskers-'+cat,{d:'M'+c+','+fmt(Y(s[0]))+'V'+fmt(Y(s[4]))+'M'+(c-cp)+','+fmt(Y(s[0]))+'H'+(c+cp)+'M'+(c-cp)+','+fmt(Y(s[4]))+'H'+(c+cp),stroke:'#111','stroke-width':'2',fill:'none'});
    make('rect',g,'box-'+cat,{x:c-w,y:Y(s[3]),width:cfg.w,height:h,fill:color,stroke:'#111','stroke-width':h<8?'1.5':'2.2'});
    if(h>=8){
      make('line',g,'median-'+cat,{x1:c-w,x2:c+w,y1:Y(s[2]),y2:Y(s[2]),stroke:'#111','stroke-width':'2.4'});
    }
  });
}
drawBoxPlot({name:'cd5-box-plot',x:153.4,top:446,y0:685.7,y100:458.3,right:301.5,xw:2.4,lab:148,catBase:714.3,cats:[194.5,258.5],w:41,cap:20,series:[cd5BoxCtc,cd5BoxInkt]});
drawBoxPlot({name:'cd25-box-plot',x:484.5,top:422.3,y0:685.7,y100:422.3,right:650,xw:3.4,lab:475.7,catBase:714.3,cats:[530.7,601.2],w:44.4,cap:23,series:[cd25BoxCtc,cd25BoxInkt]});
drawBoxPlot({name:'icos-box-plot',x:829,top:421.7,y0:685.7,y100:421.7,right:993,xw:3.4,lab:821,catBase:714.3,cats:[875.2,945],w:45,cap:22,series:[icosBoxCtc,icosBoxInkt]});
drawBoxPlot({name:'mhc-box-plot',x:1172,top:421,y0:685,y100:421,right:1339,xw:3,lab:1165.5,catBase:712.7,cats:[1219.5,1290.2],w:44,cap:22,series:[mhcBoxCtc,mhcBoxInkt]});

/* flow plots */
let clipCount=0;
function drawFlowPlot(cfg){
  const g=make('g',layer,cfg.name,{});
  const b=cfg.box;
  const dx=(cfg.xt.t5-cfg.xt.t3)/2, dy=(cfg.yt.t3-cfg.yt.t5)/2;
  const X=u=>cfg.xt.t3+(u-3)*dx;
  const Y=v=>cfg.yt.t3-(v-3)*dy;
  const id='plotclip'+(clipCount++);
  const cp=document.createElementNS(NS,'clipPath');
  cp.setAttribute('id',id);
  const cr=document.createElementNS(NS,'rect');
  cr.setAttribute('x',b[0]);cr.setAttribute('y',b[1]);cr.setAttribute('width',b[2]-b[0]);cr.setAttribute('height',b[3]-b[1]);
  cp.appendChild(cr);defs.appendChild(cp);
  const inner=make('g',g,'plot-area',{'clip-path':'url(#'+id+')'});
  (cfg.layers||[]).forEach(L=>{
    if(L.kind==='cloud'){
      const fg=make('g',inner,L.name,{filter:'url(#stipple)'});
      L.blobs.forEach(bl=>make('path',fg,'cell-density-region',{d:smoothClosed(bl.pts,X,Y),fill:ORANGE,'fill-opacity':bl.op}));
    }else if(L.kind==='fill'){
      L.rings.forEach(r=>make('path',inner,L.name,{d:smoothClosed(r,X,Y),fill:L.fill,stroke:L.stroke||'none','stroke-width':'1'}));
    }else if(L.kind==='rings'){
      L.rings.forEach(r=>make('path',inner,'contour-line',{d:smoothClosed(r,X,Y),fill:L.fill||'none',stroke:L.stroke,'stroke-width':L.sw||1.1}));
    }else if(L.kind==='ellipses'){
      L.items.forEach(e=>make('ellipse',inner,'contour-line',{cx:X(e[0]),cy:Y(e[1]),rx:e[2]*dx,ry:e[3]*dy,fill:L.fill||'none',stroke:L.stroke,'stroke-width':L.sw||1.1}));
    }else if(L.kind==='dots'){
      L.items.forEach(p=>make('circle',inner,'outlier-event',{cx:X(p[0]),cy:Y(p[1]),r:0.9,fill:L.color}));
    }
  });
  make('rect',g,'plot-frame',{x:b[0],y:b[1],width:b[2]-b[0],height:b[3]-b[1],fill:'none',stroke:'#666','stroke-width':'1.2'});
  drawXTicks(g,b,cfg.xt,cfg.shift||5);
  drawYTicks(g,b,cfg.yt);
}
const CB='#7fb0f5', CL='#86bdf6', CO='#fdc28a', WASH='rgba(110,165,250,.12)';
drawFlowPlot({name:'cd25-vs-cd8-plot',box:[464.3,783.3,682,1000.7],xt:{zero:488.3,t3:560,t5:661},yt:{t5:804,t3:904.3,zero:976,neg:994},
  layers:[{kind:'rings',rings:cd25Rings.slice(0,3),stroke:CB},{kind:'rings',rings:cd25Rings.slice(3),stroke:CB,fill:WASH},{kind:'rings',rings:cd25SideRings,stroke:CB},{kind:'fill',name:'contour-peak',rings:cd25Peaks,fill:'#fff'},{kind:'dots',items:cd25Dots,color:CB}]});
drawFlowPlot({name:'mhc-vs-cd8-plot',box:[1167,784.7,1386.7,1004],xt:{zero:1198.3,t3:1269,t5:1365},yt:{t5:805.3,t3:906.7,zero:978.3,neg:998.3},
  layers:[{kind:'rings',rings:mhcRings,stroke:CB},{kind:'rings',rings:mhcBodyRings,stroke:CB,fill:WASH},{kind:'fill',name:'contour-peak',rings:mhcPeaks,fill:'#fff'},{kind:'dots',items:mhcDots,color:CB}]});
drawFlowPlot({name:'cd45ra-vs-tetramer-plot',box:[92.7,1163.3,313.3,1383.3],xt:{zero:106.7,t3:191.7,t5:291.7},yt:{t5:1182.3,t3:1275.7,zero:1340.7,neg:1359},
  layers:[
   {kind:'cloud',name:'ctc-event-cloud',blobs:[{pts:ctcCloud,op:1}]},
   {kind:'fill',name:'ctc-event-core',rings:[ctcCore],fill:ORANGE},
   {kind:'fill',name:'ctc-contour-region',rings:ctcLight,fill:'#fff6ec',stroke:CO},
   {kind:'rings',rings:ctcLightRings,stroke:CO},
   {kind:'ellipses',items:ctcEllipses,stroke:CO},
   {kind:'ellipses',items:tetEllipses,stroke:CL},
   {kind:'dots',items:tetDots,color:CL}]});
drawFlowPlot({name:'inkt-ccr7-vs-cd27-plot',box:[594.3,1163.3,812,1381.7],xt:{zero:637.3,t3:701,t5:792.7},yt:{t5:1185,t3:1285,zero:1356,neg:1376},
  layers:[{kind:'rings',rings:ccr7InktRings,stroke:CB},{kind:'ellipses',items:ccr7InktEllipses,stroke:CB},{kind:'dots',items:ccr7InktDots,color:CB}]});
drawFlowPlot({name:'ctc-ccr7-vs-cd27-plot',box:[594.3,1512.7,812.7,1730],xt:{zero:618.3,t3:691,t5:791},yt:{t5:1533.3,t3:1633.3,zero:1704.3,neg:1724.3},
  layers:[
   {kind:'cloud',name:'ctc-event-cloud',blobs:[{pts:ccr7CtcCloud,op:1},{pts:ccr7CtcSparse,op:0.45}]},
   {kind:'fill',name:'ctc-event-core',rings:[ccr7CtcCore],fill:ORANGE},
   {kind:'fill',name:'ctc-contour-region',rings:ccr7CtcLight,fill:'#fff6ec',stroke:CO},
   {kind:'ellipses',items:ccr7CtcEllipses,stroke:CO}]});
drawFlowPlot({name:'inkt-ccr7-vs-cd8-plot',box:[1061,1163.3,1279,1380.7],xt:{zero:1104,t3:1168.3,t5:1258.3},yt:{t5:1184,t3:1284,zero:1355,neg:1375},
  layers:[{kind:'rings',rings:dTopRings,stroke:CB},{kind:'ellipses',items:dTopEllipses,stroke:CB},{kind:'dots',items:dTopDots,color:CB}]});
drawFlowPlot({name:'inkt-cd27-vs-cd8-plot',box:[1061.7,1513.3,1280,1730.7],xt:{zero:1085,t3:1158.3,t5:1259},yt:{t5:1534,t3:1634.3,zero:1705.7,neg:1725},
  layers:[{kind:'rings',rings:dBottomRings,stroke:CB},{kind:'ellipses',items:dBottomEllipses,stroke:CB},{kind:'dots',items:dBottomDots,color:CB}]});
</script>
</body>
</html>
